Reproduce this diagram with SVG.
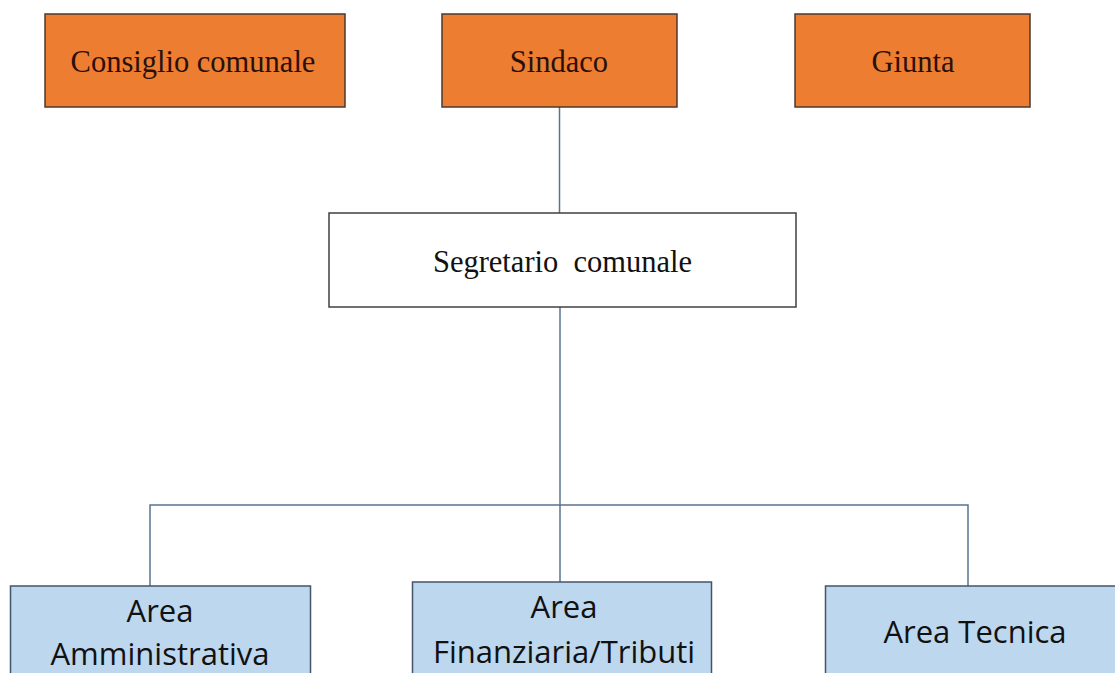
<svg xmlns="http://www.w3.org/2000/svg" width="1115" height="673" viewBox="0 0 1115 673">
<style>
.top{fill:#ED7D31;stroke:#4a3a30;stroke-width:1.5}
.mid{fill:#ffffff;stroke:#404040;stroke-width:1.5}
.bot{fill:#BDD7EE;stroke:#44546A;stroke-width:1.5}
.ts{font-family:"Liberation Serif","Times New Roman",serif;font-size:30.5px;text-anchor:middle;fill:#2b100a}
.tm{font-family:"Liberation Serif","Times New Roman",serif;font-size:30.5px;text-anchor:middle;fill:#111111}
.tb{font-family:"Open Sans","Noto Sans",sans-serif;font-size:31px;text-anchor:middle;fill:#111111}
.ln{fill:none;stroke:#5b7390;stroke-width:1.5}
</style>
<rect width="1115" height="673" fill="#ffffff"/>
<g id="connectors">
<path class="ln" d="M559.5 107 V213"/>
<path class="ln" d="M560 307 V582"/>
<path class="ln" d="M150 586 V505 H968 V586"/>
</g>
<g id="consiglio"><rect class="top" x="45" y="14" width="300" height="93"/><text class="ts" x="193" y="72">Consiglio comunale</text></g>
<g id="sindaco"><rect class="top" x="442" y="14" width="235" height="93"/><text class="ts" x="559" y="72">Sindaco</text></g>
<g id="giunta"><rect class="top" x="795" y="14" width="235" height="93"/><text class="ts" x="913" y="72">Giunta</text></g>
<g id="segretario"><rect class="mid" x="329" y="213" width="467" height="94"/><text class="tm" x="562.5" y="272" xml:space="preserve">Segretario  comunale</text></g>
<g id="amministrativa"><rect class="bot" x="10.5" y="586" width="300" height="120"/><text class="tb" x="160" y="622">Area</text><text class="tb" x="160" y="665">Amministrativa</text></g>
<g id="finanziaria"><rect class="bot" x="412.5" y="582" width="299" height="120"/><text class="tb" x="564" y="618">Area</text><text class="tb" x="564" y="663">Finanziaria/Tributi</text></g>
<g id="tecnica"><rect class="bot" x="825.5" y="586" width="300" height="120"/><text class="tb" x="975" y="643">Area Tecnica</text></g>
</svg>
